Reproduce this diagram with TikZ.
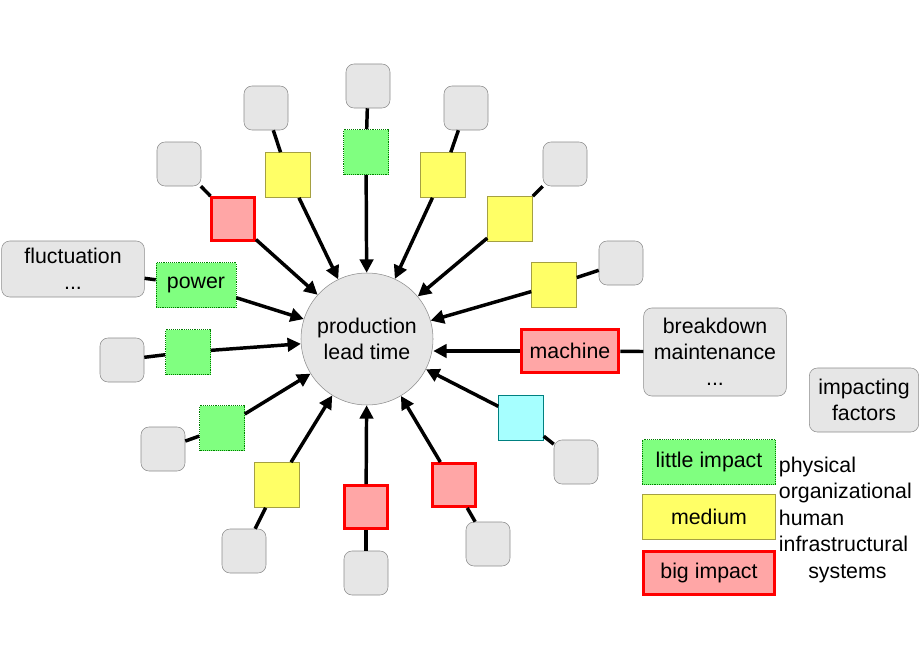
\documentclass[tikz,border=0pt]{standalone}
\usepackage{fontspec}
\setmainfont{Liberation Sans}
\usetikzlibrary{arrows.meta}
\definecolor{lowfill}{RGB}{128,255,128}
\definecolor{midfill}{RGB}{255,255,102}
\definecolor{highfill}{RGB}{255,166,166}
\definecolor{cyanfill}{RGB}{166,255,255}
\definecolor{greyfill}{RGB}{230,230,230}

\begin{document}
\begin{tikzpicture}[
	x=0.75pt, y=-0.75pt,
	font=\fontsize{16}{19.5}\selectfont,
	lead/.style={ circle, draw=black!45, fill=greyfill, minimum size=99pt, inner sep=0pt, align=center },
	factor/.style={ rounded corners=6pt, draw=black!45, fill=greyfill, minimum size=33pt, inner sep=0pt, align=center },
	lowbox/.style={ draw=green!50!black, densely dotted, fill=lowfill, minimum size=33.75pt, inner sep=0pt },
	midbox/.style={ draw=yellow!60!black, fill=midfill, minimum size=33.75pt, inner sep=0pt },
	highbox/.style={ draw=red, line width=2.4pt, fill=highfill, minimum size=32pt, inner sep=0pt },
	cyanbox/.style={ draw=teal, fill=cyanfill, minimum size=33.75pt, inner sep=0pt },
	link/.style={ line width=2.6pt },
	impact/.style={ line width=2.6pt, -{Triangle[length=10pt,width=10pt]} }
]
\useasboundingbox (0,0) rectangle (920,660);

\node at (367,339) (lt) [lead] {production\\lead time};

\foreach \n/\k/\bx/\by/\gx/\gy in {1/lowbox/366/152/368/86, 2/midbox/443/175/466/108,
	3/midbox/510/219/565/164, 4/midbox/554/285/621/263, 6/cyanbox/521/418/576/462,
	7/highbox/454/485/488/544, 8/highbox/366/507/366/573, 9/midbox/277/485/244/551,
	10/lowbox/222/428/163/449, 11/lowbox/188/352/122/360, 13/highbox/233/219/179/164,
	14/midbox/288/175/266/108} {
	\node at (\bx,\by) (b\n) [\k] {};
	\node at (\gx,\gy) (g\n) [factor] {};
	\draw[link] (g\n) -- (b\n);
	\draw[impact] (b\n) -- (lt);
}

% named factors
\node at (570,351) (b5) [highbox,minimum width=73pt] {machine};
\node at (715,352) (g5) [factor,minimum width=107pt,minimum height=66pt] {breakdown\\maintenance\\...};
\draw[link] (g5) -- (b5);
\draw[impact] (b5) -- (b5 -| lt.east);

\node at (196,285) (b12) [lowbox,minimum width=60pt] {power};
\node at (73,269) (g12) [factor,minimum width=107pt,minimum height=42pt] {fluctuation\\...};
\draw[link] (g12) -- (b12);
\draw[impact] (b12) -- (lt);

% legend
\node at (864,400) (key) [factor,minimum width=82pt,minimum height=48pt] {impacting\\factors};
\node at (709,462) (klow) [lowbox,minimum width=100pt] {little impact};
\node at (709,517) (kmid) [midbox,minimum width=100pt] {medium};
\node at (709,573) (khigh) [highbox,minimum width=98pt] {big impact};
\node at (776,454) (kinds) [anchor=north west,align=left,inner sep=2pt,font=\fontsize{16}{19.9}\selectfont] {physical\\organizational\\human\\infrastructural\\\hspace*{22pt}systems};

\end{tikzpicture}
\end{document}
